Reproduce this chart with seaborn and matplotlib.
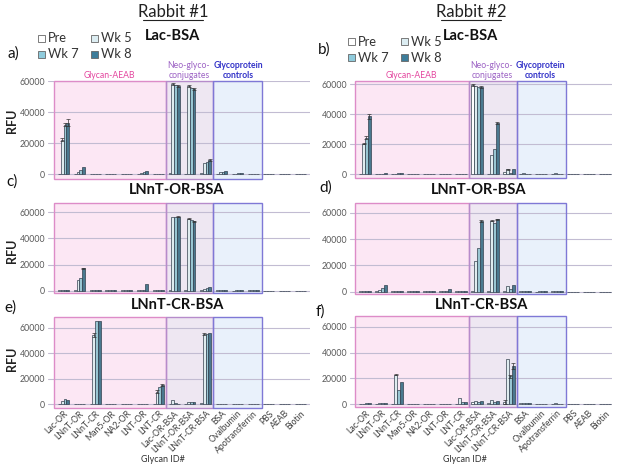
import matplotlib.pyplot as plt
import pandas as pd
import seaborn as sns
from matplotlib.lines import Line2D
from matplotlib.patches import Rectangle
from matplotlib.transforms import blended_transform_factory

glycans = ["Lac-OR", "LNnT-OR", "LNnT-CR", "Man5-OR", "NA2-OR", "LNT-OR", "LNT-CR",
           "Lac-OR-BSA", "LNnT-OR-BSA", "LNnT-CR-BSA", "BSA", "Ovalbumin",
           "Apotransferrin", "PBS", "AEAB", "Biotin"]
weeks = ["Pre", "Wk 5", "Wk 7", "Wk 8"]
week_colors = ["#ffffff", "#dcedf2", "#8fcbdc", "#3e7d9a"]
rfu_ticks = [0, 20000, 40000, 60000]

# Rabbit #1, Lac-BSA
a_pre = [300, 200, 150, 150, 150, 200, 150, 600, 400, 800, 300, 200, 150, 150, 150, 150]
a_wk5 = [22500, 1300, 200, 150, 150, 800, 150, 58500, 57000, 7500, 1200, 400, 300, 150, 150, 150]
a_wk7 = [32000, 2500, 200, 150, 150, 1500, 150, 58000, 56000, 7700, 1800, 600, 400, 150, 150, 150]
a_wk8 = [33500, 4500, 200, 150, 150, 2200, 150, 57000, 55000, 9500, 2300, 700, 400, 150, 150, 150]
a_err = [(0, 1, 800), (0, 2, 1000), (0, 3, 2000), (7, 1, 500), (7, 3, 500), (8, 1, 500), (8, 3, 500), (9, 3, 600)]

# Rabbit #2, Lac-BSA
b_pre = [300, 300, 300, 150, 150, 150, 150, 59500, 500, 1500, 300, 150, 300, 150, 150, 150]
b_wk5 = [20500, 300, 500, 150, 150, 200, 150, 58500, 13000, 3300, 1000, 200, 700, 150, 150, 150]
b_wk7 = [24500, 500, 800, 150, 150, 200, 150, 57800, 17000, 1200, 500, 200, 500, 150, 150, 150]
b_wk8 = [38500, 800, 1200, 150, 150, 300, 150, 58000, 34000, 3300, 600, 200, 400, 150, 150, 150]
b_err = [(0, 1, 600), (0, 2, 800), (0, 3, 1500), (7, 0, 500), (7, 3, 600), (8, 3, 600), (9, 1, 400)]

# Rabbit #1, LNnT-OR-BSA
c_pre = [150, 300, 150, 150, 150, 200, 150, 500, 300, 300, 300, 100, 150, 100, 100, 100]
c_wk5 = [150, 8000, 150, 150, 150, 300, 150, 56000, 55000, 1500, 800, 150, 200, 100, 100, 100]
c_wk7 = [200, 10000, 150, 150, 150, 800, 150, 56000, 54000, 2200, 700, 150, 300, 100, 100, 100]
c_wk8 = [200, 17000, 150, 150, 150, 4800, 150, 56500, 53000, 3000, 700, 150, 300, 100, 100, 100]
c_err = [(1, 3, 400), (7, 3, 500), (8, 1, 500), (8, 3, 500)]

# Rabbit #2, LNnT-OR-BSA
d_pre = [300, 200, 200, 150, 150, 200, 150, 500, 500, 300, 300, 100, 300, 100, 100, 100]
d_wk5 = [500, 1500, 200, 150, 150, 300, 150, 23000, 54000, 4500, 800, 150, 500, 100, 100, 100]
d_wk7 = [800, 2500, 200, 150, 150, 500, 150, 33000, 52500, 2000, 500, 150, 600, 100, 100, 100]
d_wk8 = [500, 5000, 200, 150, 150, 2200, 150, 54000, 55000, 4800, 400, 150, 700, 100, 100, 100]
d_err = [(7, 3, 600), (8, 1, 500), (8, 3, 600)]

# Rabbit #1, LNnT-CR-BSA
e_pre = [300, 200, 300, 100, 100, 100, 200, 500, 300, 800, 200, 100, 100, 100, 100, 100]
e_wk5 = [2500, 200, 54000, 100, 100, 100, 10000, 3000, 1500, 55000, 300, 150, 150, 100, 100, 100]
e_wk7 = [4000, 200, 65000, 100, 100, 100, 13500, 800, 1800, 55000, 300, 150, 150, 100, 100, 100]
e_wk8 = [3500, 200, 65000, 100, 100, 100, 15000, 500, 1500, 55500, 300, 150, 150, 100, 100, 100]
e_err = [(2, 1, 1500), (6, 1, 800), (6, 3, 800), (9, 1, 600)]

# Rabbit #2, LNnT-CR-BSA
f_pre = [300, 300, 400, 100, 100, 100, 200, 1500, 500, 1500, 500, 200, 300, 100, 100, 100]
f_wk5 = [400, 800, 23000, 150, 150, 150, 4700, 2500, 3200, 35000, 1000, 200, 500, 100, 100, 100]
f_wk7 = [700, 600, 11000, 150, 150, 150, 1500, 2000, 2000, 21500, 700, 200, 400, 100, 100, 100]
f_wk8 = [800, 500, 17500, 150, 150, 150, 1500, 2500, 2500, 29500, 800, 200, 300, 100, 100, 100]
f_err = [(2, 1, 500), (9, 0, 1500), (9, 2, 1000), (9, 3, 2500)]

W, H = 621, 472


def fx(px):
    return px / W


def fy(py):
    return 1 - py / H


def long_frame(series):
    rows = []
    for week, values in zip(weeks, series):
        for glycan, v in zip(glycans, values):
            rows.append({"glycan": glycan, "week": week, "rfu": v})
    return pd.DataFrame(rows)


def draw_panel(fig, rect_px, series, errs, ylim, centre0, step, show_x=False):
    left, right, top, bottom = rect_px
    ax = fig.add_axes([fx(left), fy(bottom), (right - left) / W, (bottom - top) / H])
    trans = blended_transform_factory(ax.transData, ax.transAxes)
    boxes = [(-0.6, 6.5, "#fce7f4", "#dd8cc8"),
             (6.5, 9.47, "#eee7f2", "#b68ccb"),
             (9.47, 12.55, "#e9f1fb", "#7f78d6")]
    for x0, x1, fc, ec in boxes:
        ax.add_patch(Rectangle((x0, 0), x1 - x0, 1, transform=trans, facecolor=fc,
                               edgecolor="none", zorder=0.1))
        ax.add_patch(Rectangle((x0, 0), x1 - x0, 1, transform=trans, facecolor="none",
                               edgecolor=ec, linewidth=1.0, zorder=1.8, clip_on=False))

    sns.barplot(data=long_frame(series), x="glycan", y="rfu", hue="week",
                order=glycans, hue_order=weeks, palette=week_colors, width=0.7,
                edgecolor="#34414f", linewidth=0.5, errorbar=None, legend=False, ax=ax)

    for gi, wi, err in errs:
        bar = ax.containers[wi][gi]
        xc = bar.get_x() + bar.get_width() / 2
        ax.errorbar(xc, bar.get_height(), yerr=err, fmt="none", ecolor="#333333",
                    elinewidth=0.5, capsize=1.3, capthick=0.5, zorder=3)

    ax.set_xlim((left - centre0) / step, (right - centre0) / step)
    ax.set_ylim(*ylim)
    ax.set_yticks(rfu_ticks)
    ax.set_yticklabels([str(t) for t in rfu_ticks])
    ax.yaxis.grid(True, color="#c2bcd2", linewidth=0.8)
    ax.set_axisbelow(True)
    sns.despine(ax=ax, left=True, bottom=True)
    ax.tick_params(length=0, labelsize=6.3, labelcolor="#595959", pad=2)
    ax.set_ylabel("")
    ax.set_xlabel("")
    if show_x:
        ax.set_xticks(range(len(glycans)))
        ax.set_xticklabels(glycans, rotation=45, ha="right", rotation_mode="anchor",
                           fontsize=6.2, color="#404040")
        ax.tick_params(axis="x", pad=1)
    else:
        ax.set_xticklabels([])
    return ax


sns.set_theme(style="white")
plt.rcParams["font.family"] = ["Lato", "DejaVu Sans"]

fig = plt.figure(figsize=(W / 100, H / 100), dpi=100)

draw_panel(fig, (48, 310, 81.5, 179), [a_pre, a_wk5, a_wk7, a_wk8], a_err, (-3000, 60000), 63.5, 15.8)
draw_panel(fig, (350, 612, 81, 178.5), [b_pre, b_wk5, b_wk7, b_wk8], b_err, (-2700, 62000), 365, 16.0)
draw_panel(fig, (48, 310, 202.7, 293.3), [c_pre, c_wk5, c_wk7, c_wk8], c_err, (-2000, 67300), 63.5, 15.8)
draw_panel(fig, (350, 612, 203.3, 294.3), [d_pre, d_wk5, d_wk7, d_wk8], d_err, (-2000, 67300), 365, 16.0)
draw_panel(fig, (48, 310, 316.7, 407.5), [e_pre, e_wk5, e_wk7, e_wk8], e_err, (-2500, 68500), 63.5, 15.8, show_x=True)
draw_panel(fig, (350, 612, 316, 407.3), [f_pre, f_wk5, f_wk7, f_wk8], f_err, (-2500, 68500), 365, 16.0, show_x=True)

# headers
for cx, label in [(173, "Rabbit #1"), (471, "Rabbit #2")]:
    fig.text(fx(cx), fy(12), label, ha="center", va="center", fontsize=12, color="#222222")
    fig.add_artist(Line2D([fx(cx - 30), fx(cx + 30)], [fy(20), fy(20)], color="#222222", lw=0.8))

titles = [(172, 36, "Lac-BSA"), (470, 36, "Lac-BSA"), (177, 190, "LNnT-OR-BSA"),
          (479, 190, "LNnT-OR-BSA"), (178, 305, "LNnT-CR-BSA"), (482, 305, "LNnT-CR-BSA")]
for x, y, label in titles:
    fig.text(fx(x), fy(y), label, ha="center", va="center", fontsize=10.5, fontweight="bold", color="#111111")

letters = [(13, 54, "a)"), (324, 50, "b)"), (12, 182, "c)"), (326, 188, "d)"), (10, 308, "e)"), (320, 312, "f)")]
for x, y, label in letters:
    fig.text(fx(x), fy(y), label, ha="center", va="center", fontsize=11, color="#111111")

for cy in [121, 251, 359]:
    fig.text(fx(12), fy(cy), "RFU", rotation=90, ha="center", va="center", fontsize=9,
             fontweight="bold", color="#222222")

for cx in [163, 465]:
    fig.text(fx(cx), fy(459), "Glycan ID#", ha="center", va="center", fontsize=6.5, color="#333333")

# region labels over the top panels
for gx, nx, px in [(109, 189, 238), (411, 492, 540)]:
    fig.text(fx(gx), fy(76), "Glycan-AEAB", ha="center", va="center", fontsize=6.2, color="#e4479f")
    fig.text(fx(nx), fy(70.5), "Neo-glyco-\nconjugates", ha="center", va="center", fontsize=6.2,
             color="#9c62c4", linespacing=1.1)
    fig.text(fx(px), fy(70.5), "Glycoprotein\ncontrols", ha="center", va="center", fontsize=6.2,
             color="#3333c8", fontweight="bold", linespacing=1.1)

# legends, drawn as squares plus text
for lx, ly in [(38, 38), (348, 41.5)]:
    spots = [(0, 0), (53, 0), (0, 16), (53, 16)]
    for (dx, dy), week, colour in zip(spots, weeks, week_colors):
        x0, y0 = lx + dx, ly + dy
        fig.add_artist(Rectangle((fx(x0), fy(y0 + 3.5)), 7 / W, 7 / H, transform=fig.transFigure,
                                 facecolor=colour, edgecolor="#666666", linewidth=0.6))
        fig.text(fx(x0 + 10), fy(y0), week, ha="left", va="center", fontsize=9.3, color="#333333")

fig.savefig("out.png", dpi=100)
